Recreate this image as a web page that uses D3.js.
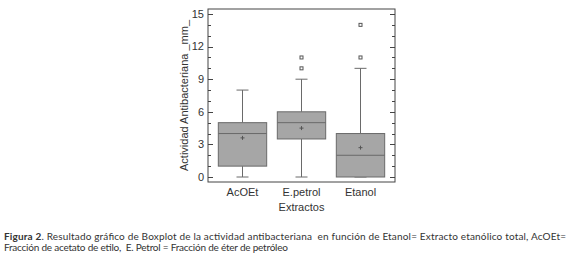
<!DOCTYPE html>
<html>
<head>
<meta charset="utf-8">
<script src="https://cdn.jsdelivr.net/npm/d3@7"></script>
<style>
  body { margin: 0; background: #fff; }
  svg text { white-space: pre; }
  .tick-label, .cat-label, .axis-title { font-family: "Liberation Sans", Arial, sans-serif; fill: #333; }
  .caption { font-family: Lato, "Open Sans", sans-serif; font-size: 10px; fill: #333; }
</style>
</head>
<body>
<div id="wrapper"></div>
<script>
// data
const categories = ["AcOEt", "E.petrol", "Etanol"];
const whiskerLow = [0, 0, 0];
const q1 = [1, 3.5, 0];
const medians = [4, 5, 2];
const q3 = [5, 6, 4];
const whiskerHigh = [8, 9, 10];
const means = [3.6, 4.5, 2.7];
const outliers = [[], [10, 11], [11, 14]];
const yTicks = [0, 3, 6, 9, 12, 15];

const captionLine1 = "Resultado gráfico de Boxplot de la actividad antibacteriana  en función de Etanol= Extracto etanólico total, AcOEt=";
const captionLine2 = "Fracción de acetato de etilo,  E. Petrol = Fracción de éter de petróleo";

function drawChart() {
  const width = 579;
  const height = 262;
  const frame = { left: 208, right: 395, top: 9, bottom: 182 };

  const svg = d3.select("#wrapper").append("svg")
    .attr("width", width)
    .attr("height", height);

  const yScale = d3.scaleLinear()
    .domain([-0.46, 15.46])
    .range([frame.bottom, frame.top]);

  const xScale = d3.scaleBand()
    .domain(categories)
    .range([213, 390])
    .paddingInner(0.18)
    .paddingOuter(0.09);

  const axisColor = "#444";

  // frame
  svg.append("rect")
    .attr("x", frame.left)
    .attr("y", frame.top)
    .attr("width", frame.right - frame.left)
    .attr("height", frame.bottom - frame.top)
    .attr("fill", "none")
    .attr("stroke", axisColor)
    .attr("stroke-width", 1);

  // ticks on both vertical sides, pointing inward
  const minorTicks = d3.range(0, 16);
  const tickGroup = svg.append("g").attr("stroke", axisColor).attr("stroke-width", 1);
  minorTicks.forEach((t) => {
    const len = t % 3 === 0 ? 5 : 3;
    const y = Math.round(yScale(t)) + 0.5;
    tickGroup.append("line")
      .attr("x1", frame.left).attr("x2", frame.left + len)
      .attr("y1", y).attr("y2", y);
    tickGroup.append("line")
      .attr("x1", frame.right).attr("x2", frame.right - len)
      .attr("y1", y).attr("y2", y);
  });

  svg.append("g")
    .selectAll("text")
    .data(yTicks)
    .join("text")
    .attr("class", "tick-label")
    .attr("x", frame.left - 4)
    .attr("y", (d) => yScale(d))
    .attr("dy", "0.35em")
    .attr("text-anchor", "end")
    .style("font-size", "11px")
    .text((d) => d);

  svg.append("text")
    .attr("class", "axis-title")
    .attr("transform", `translate(188, ${(frame.top + frame.bottom) / 2}) rotate(-90)`)
    .attr("text-anchor", "middle")
    .style("font-size", "11px")
    .text("Actividad Antibacteriana _mm_");

  // boxes
  const boxColor = "#a6a6a6";
  const lineColor = "#6a6a6a";
  const capWidth = 12;

  categories.forEach((cat, i) => {
    const x0 = xScale(cat);
    const bw = xScale.bandwidth();
    const cx = x0 + bw / 2;
    const g = svg.append("g");

    g.append("line")
      .attr("x1", cx).attr("x2", cx)
      .attr("y1", yScale(whiskerHigh[i])).attr("y2", yScale(q3[i]))
      .attr("stroke", lineColor);
    g.append("line")
      .attr("x1", cx).attr("x2", cx)
      .attr("y1", yScale(q1[i])).attr("y2", yScale(whiskerLow[i]))
      .attr("stroke", lineColor);
    [whiskerHigh[i], whiskerLow[i]].forEach((v) => {
      g.append("line")
        .attr("x1", cx - capWidth / 2).attr("x2", cx + capWidth / 2)
        .attr("y1", yScale(v)).attr("y2", yScale(v))
        .attr("stroke", lineColor);
    });

    g.append("rect")
      .attr("x", x0)
      .attr("y", yScale(q3[i]))
      .attr("width", bw)
      .attr("height", yScale(q1[i]) - yScale(q3[i]))
      .attr("fill", boxColor)
      .attr("stroke", lineColor);

    g.append("line")
      .attr("x1", x0).attr("x2", x0 + bw)
      .attr("y1", yScale(medians[i])).attr("y2", yScale(medians[i]))
      .attr("stroke", lineColor);

    // mean marker
    const my = yScale(means[i]);
    g.append("path")
      .attr("d", `M${cx - 2},${my}H${cx + 2}M${cx},${my - 2}V${my + 2}`)
      .attr("stroke", "#555");

    outliers[i].forEach((v) => {
      g.append("rect")
        .attr("x", cx - 1.5)
        .attr("y", yScale(v) - 1.5)
        .attr("width", 3)
        .attr("height", 3)
        .attr("fill", "#fff")
        .attr("stroke", "#555");
    });

    svg.append("text")
      .attr("class", "cat-label")
      .attr("x", cx)
      .attr("y", 196)
      .attr("text-anchor", "middle")
      .style("font-size", "11px")
      .text(cat);
  });

  svg.append("text")
    .attr("class", "cat-label")
    .attr("x", (frame.left + frame.right) / 2)
    .attr("y", 211)
    .attr("text-anchor", "middle")
    .style("font-size", "11px")
    .text("Extractos");

  // caption
  const cap1 = svg.append("text")
    .attr("class", "caption")
    .attr("x", 4)
    .attr("y", 240)
    .attr("textLength", 562)
    .attr("lengthAdjust", "spacing");
  cap1.append("tspan").style("font-weight", "bold").text("Figura 2");
  cap1.append("tspan").text(". " + captionLine1);

  svg.append("text")
    .attr("class", "caption")
    .attr("x", 4)
    .attr("y", 251)
    .attr("textLength", 284)
    .attr("lengthAdjust", "spacing")
    .text(captionLine2);
}

drawChart();
</script>
</body>
</html>
